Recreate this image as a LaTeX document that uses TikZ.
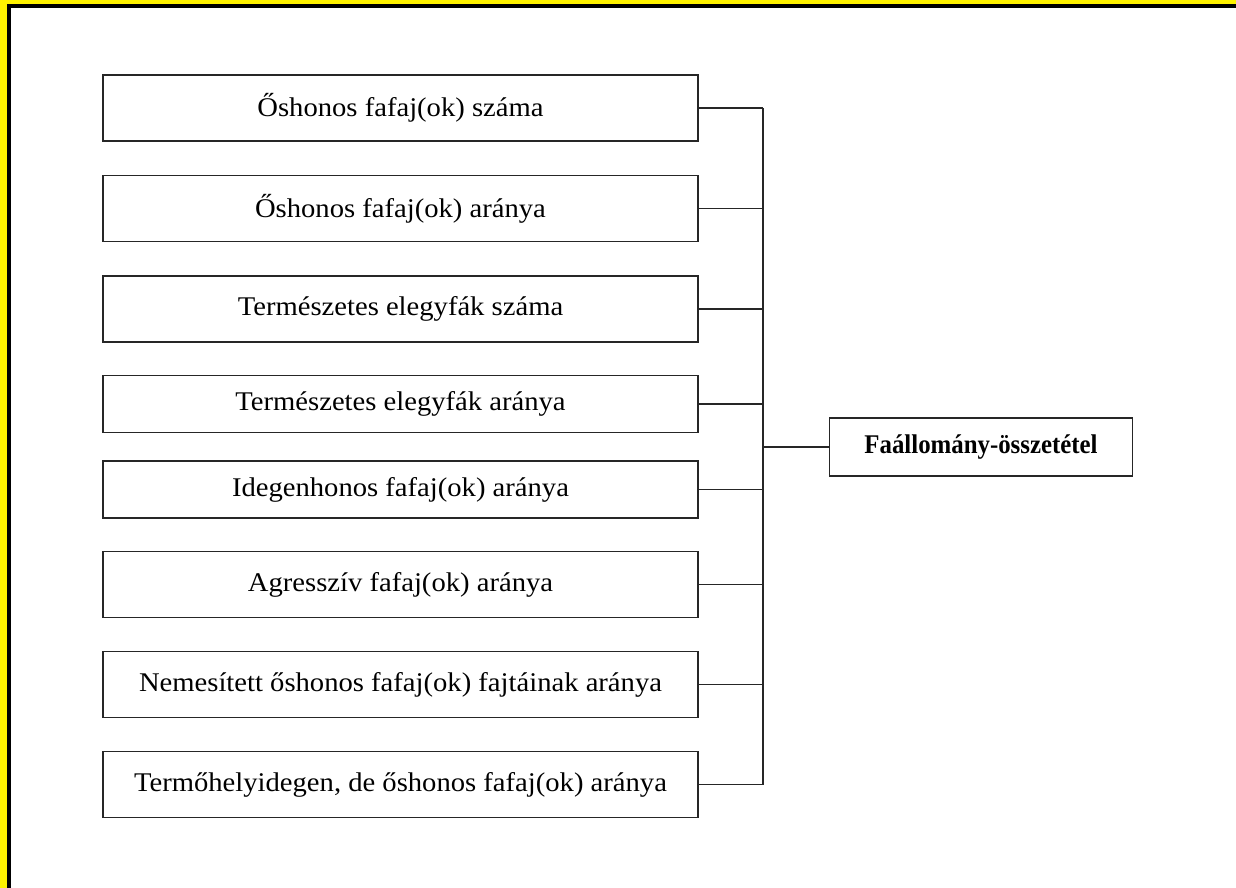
\documentclass[tikz,border=0pt]{standalone}
\usepackage{fontspec}
\setmainfont{Liberation Serif}[FakeStretch=1.06]
\newfontfamily\fokiemelt{Liberation Serif}[FakeStretch=0.92]
\begin{document}
\begin{tikzpicture}[x=1pt,y=-1pt]
\tikzset{doboz/.style={draw=black!85, line width=1.4pt, minimum width=595pt, minimum height=66pt, inner sep=0pt, font=\fontsize{27}{31}\selectfont},
  kisdoboz/.style={doboz, minimum height=57pt},
  fodoboz/.style={doboz, minimum width=303pt, minimum height=58pt, font=\fontsize{27}{31}\fokiemelt\bfseries},
  vonal/.style={draw=black!85, line width=1.4pt}}
\useasboundingbox (0,0) rectangle (1236,888);
\fill[yellow] (0,0) rectangle (1236,4);
\fill[yellow] (0,0) rectangle (7,888);
\fill[black] (7,4) rectangle (1236,8);
\fill[black] (7,4) rectangle (11,888);
\node[doboz] (B1) at (400.5,108) {Őshonos fafaj(ok) száma};
\node[doboz] (B2) at (400.5,208.5) {Őshonos fafaj(ok) aránya};
\node[doboz] (B3) at (400.5,309) {Természetes elegyfák száma};
\node[kisdoboz] (B4) at (400.5,404) {Természetes elegyfák aránya};
\node[kisdoboz] (B5) at (400.5,489.5) {Idegenhonos fafaj(ok) aránya};
\node[doboz] (B6) at (400.5,584.5) {Agresszív fafaj(ok) aránya};
\node[doboz] (B7) at (400.5,684.5) {Nemesített őshonos fafaj(ok) fajtáinak aránya};
\node[doboz] (B8) at (400.5,784.5) {Termőhelyidegen, de őshonos fafaj(ok) aránya};
\node[fodoboz] (F) at (981,447) {Faállomány-összetétel};
\coordinate (T) at (763,108);
\coordinate (M) at (763,784.5);
\draw[vonal] (T) -- (M);
\draw[vonal] (B1.east) -- (B1.east -| T);
\draw[vonal] (B2.east) -- (B2.east -| T);
\draw[vonal] (B3.east) -- (B3.east -| T);
\draw[vonal] (B4.east) -- (B4.east -| T);
\draw[vonal] (B5.east) -- (B5.east -| T);
\draw[vonal] (B6.east) -- (B6.east -| T);
\draw[vonal] (B7.east) -- (B7.east -| T);
\draw[vonal] (B8.east) -- (B8.east -| T);
\draw[vonal] (F.west) -- (F.west -| T);
\end{tikzpicture}
\end{document}
